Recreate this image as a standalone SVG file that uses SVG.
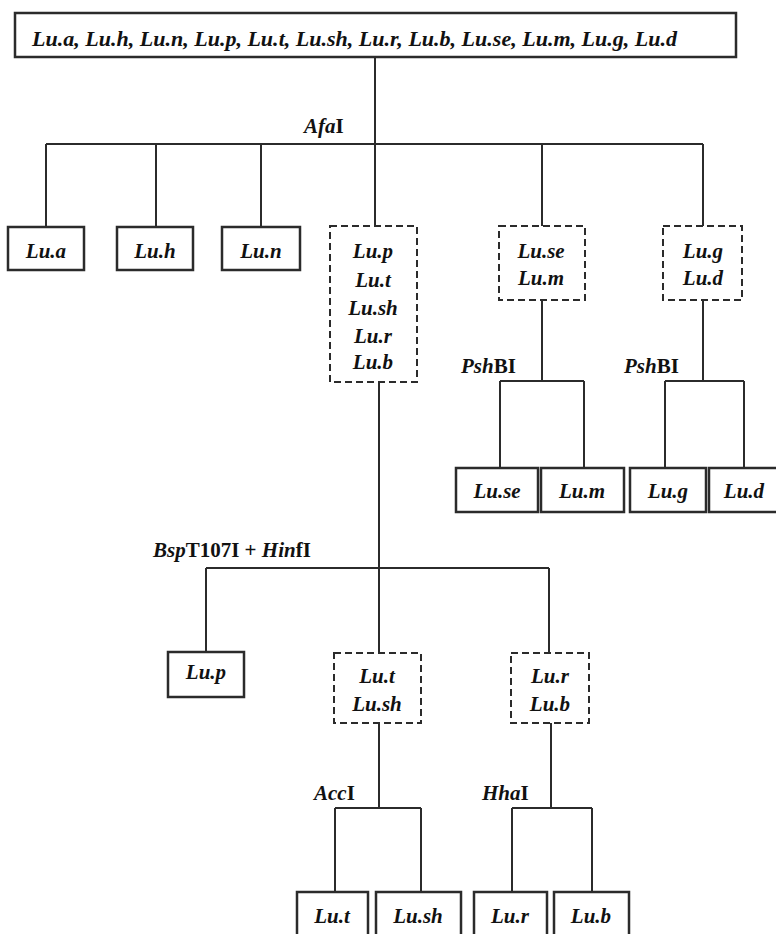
<svg xmlns="http://www.w3.org/2000/svg" width="776" height="934" viewBox="0 0 776 934" font-family="'Liberation Serif', 'DejaVu Serif', serif">
<style>
.bg{fill:#fff}
.solid{fill:#fff;stroke:#2b2b2b;stroke-width:2.5}
.dash{fill:#fff;stroke:#2b2b2b;stroke-width:2;stroke-dasharray:7,4}
.conn{fill:none;stroke:#2b2b2b;stroke-width:2}
text{font-family:'Liberation Serif','DejaVu Serif',serif;font-weight:bold;font-size:21px;fill:#111}
.c{text-anchor:middle;font-style:italic}
.lbl{font-style:normal}
.it{font-style:italic}
</style>
<rect class="bg" x="0" y="0" width="776" height="934"/>
<g id="connectors">
<path class="conn" d="M375 57V144M46 144H703M46 144V227M156 144V227M261 144V227M375 144V226M542 144V226M703 144V226"/>
<path class="conn" d="M542 300V381M500 381H584M500 381V468M584 381V468"/>
<path class="conn" d="M703 300V381M665 381H744M665 381V468M744 381V468"/>
<path class="conn" d="M379 382V568M206 568H549M206 568V652M379 568V653M549 568V653"/>
<path class="conn" d="M379 723V808M335 808H421M335 808V892M421 808V892"/>
<path class="conn" d="M551 723V808M512 808H592M512 808V892M592 808V892"/>
</g>
<g id="labels">
<text x="304" y="133" class="lbl"><tspan class="it">Afa</tspan>I</text>
<text x="461" y="373" class="lbl"><tspan class="it">Psh</tspan>BI</text>
<text x="624" y="373" class="lbl"><tspan class="it">Psh</tspan>BI</text>
<text x="153" y="557" class="lbl"><tspan class="it">Bsp</tspan>T107I + <tspan class="it">Hin</tspan>fI</text>
<text x="314" y="800" class="lbl"><tspan class="it">Acc</tspan>I</text>
<text x="482" y="800" class="lbl"><tspan class="it">Hha</tspan>I</text>
</g>
<g id="root">
<rect class="solid" x="15" y="13" width="721" height="44"/>
<text x="32" y="46" class="it" textLength="645" lengthAdjust="spacingAndGlyphs">Lu.a, Lu.h, Lu.n, Lu.p, Lu.t, Lu.sh, Lu.r, Lu.b, Lu.se, Lu.m, Lu.g, Lu.d</text>
</g>
<g id="n-lua"><rect class="solid" x="8" y="227" width="76" height="43"/><text class="c" x="46" y="258">Lu.a</text></g>
<g id="n-luh"><rect class="solid" x="117" y="227" width="76" height="43"/><text class="c" x="155" y="258">Lu.h</text></g>
<g id="n-lun"><rect class="solid" x="222" y="227" width="78" height="43"/><text class="c" x="261" y="258">Lu.n</text></g>
<g id="g-ptshrb"><rect class="dash" x="330" y="226" width="87" height="156"/>
<text class="c" x="373" y="258">Lu.p</text><text class="c" x="373" y="287">Lu.t</text><text class="c" x="373" y="315">Lu.sh</text><text class="c" x="373" y="343">Lu.r</text><text class="c" x="373" y="369">Lu.b</text></g>
<g id="g-sem"><rect class="dash" x="499" y="226" width="86" height="74"/>
<text class="c" x="541" y="258">Lu.se</text><text class="c" x="541" y="285">Lu.m</text></g>
<g id="g-gd"><rect class="dash" x="663" y="226" width="79" height="74"/>
<text class="c" x="703" y="258">Lu.g</text><text class="c" x="703" y="285">Lu.d</text></g>
<g id="n-luse"><rect class="solid" x="456" y="468" width="82" height="44"/><text class="c" x="497" y="498">Lu.se</text></g>
<g id="n-lum"><rect class="solid" x="541" y="468" width="83" height="44"/><text class="c" x="582" y="498">Lu.m</text></g>
<g id="n-lug"><rect class="solid" x="630" y="468" width="76" height="44"/><text class="c" x="668" y="498">Lu.g</text></g>
<g id="n-lud"><rect class="solid" x="709" y="468" width="70" height="44"/><text class="c" x="744" y="498">Lu.d</text></g>
<g id="n-lup"><rect class="solid" x="168" y="652" width="76" height="45"/><text class="c" x="206" y="679">Lu.p</text></g>
<g id="g-tsh"><rect class="dash" x="334" y="653" width="87" height="70"/>
<text class="c" x="377" y="683">Lu.t</text><text class="c" x="377" y="711">Lu.sh</text></g>
<g id="g-rb"><rect class="dash" x="511" y="653" width="78" height="70"/>
<text class="c" x="550" y="683">Lu.r</text><text class="c" x="550" y="711">Lu.b</text></g>
<g id="n-lut"><rect class="solid" x="297" y="892" width="71" height="50"/><text class="c" x="332" y="923">Lu.t</text></g>
<g id="n-lush"><rect class="solid" x="376" y="892" width="85" height="50"/><text class="c" x="418" y="923">Lu.sh</text></g>
<g id="n-lur"><rect class="solid" x="474" y="892" width="73" height="50"/><text class="c" x="510" y="923">Lu.r</text></g>
<g id="n-lub"><rect class="solid" x="554" y="892" width="75" height="50"/><text class="c" x="591" y="923">Lu.b</text></g>
</svg>
